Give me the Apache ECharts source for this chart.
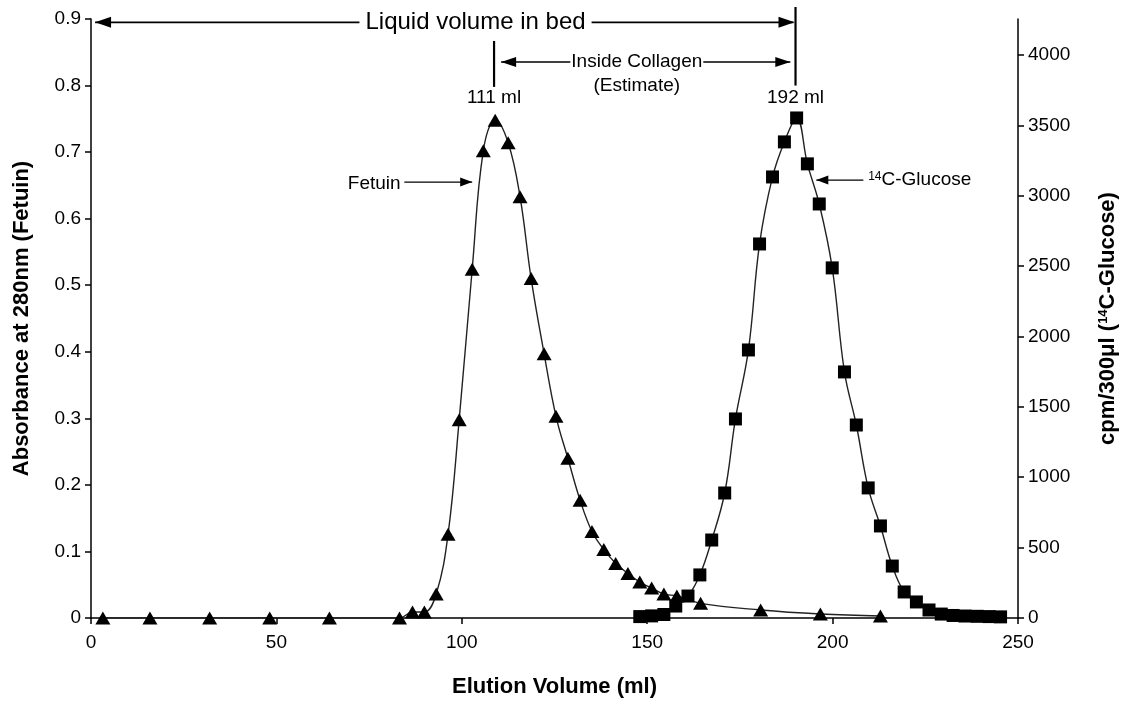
<!DOCTYPE html>
<html><head><meta charset="utf-8">
<script src="https://cdn.jsdelivr.net/npm/echarts@6/dist/echarts.min.js"></script>
<style>html,body{margin:0;padding:0;background:#fff}#c{width:1127px;height:703px}</style>
</head><body><div id="c"></div>
<script>
// Fetuin (absorbance, left axis)
const fetuinX = [3.2,15.9,32,48.2,64.3,83.2,86.7,89.9,93.1,96.3,99.3,102.8,105.8,109,112.5,115.7,118.7,122.2,125.4,128.6,131.9,135.1,138.3,141.5,144.8,148,151.2,154.5,158,164.4,180.6,196.7,212.9];
const fetuinY = [0,0,0,0,0,0,0.009,0.009,0.036,0.126,0.298,0.524,0.702,0.748,0.714,0.633,0.51,0.397,0.303,0.24,0.177,0.13,0.103,0.082,0.067,0.054,0.045,0.036,0.033,0.022,0.012,0.006,0.003];
// 14C-Glucose (cpm, right axis)
const glucoseX = [148,151.2,154.5,157.7,161,164.2,167.4,170.9,173.8,177.3,180.3,183.8,187,190.3,193.2,196.4,199.9,203.2,206.4,209.6,212.9,216.1,219.3,222.6,226,229.3,232.5,235.7,239,242.2,245.3];
const glucoseY = [10,15,25,85,156,306,554,888,1414,1904,2657,3133,3382,3552,3226,2941,2487,1748,1371,924,654,369,185,114,57,28,18,14,12,10,8];
// ticks
const xTicks = [0,50,100,150,200,250];
const leftTicks = [0,0.1,0.2,0.3,0.4,0.5,0.6,0.7,0.8,0.9];
const rightTicks = [0,500,1000,1500,2000,2500,3000,3500,4000];
const rightMax = 4255;
// annotations (data coordinates)
const peakX = [108.7, 190];
const peakLabels = ['111 ml', '192 ml'];

const FONT = '"Liberation Sans", Arial, sans-serif';
const chart = echarts.init(document.getElementById('c'), null, {renderer: 'canvas'});
const zip = (xs, ys) => xs.map((x, i) => [x, ys[i]]);

const axisLine = {show: true, lineStyle: {color: '#000', width: 1.5}};
const axisTick = {show: true, length: 6, lineStyle: {color: '#000', width: 1.5}};
const TICK_FS = 19, TITLE_FS = 22;

chart.setOption({
  animation: false,
  backgroundColor: '#fff',
  grid: {left: 91, right: 107, top: 19, bottom: 84, containLabel: false},
  xAxis: {
    type: 'value', min: 0, max: 250, interval: 50,
    axisLine, axisTick, splitLine: {show: false},
    axisLabel: {color: '#000', fontSize: TICK_FS, fontFamily: FONT, margin: 15},
    name: 'Elution Volume (ml)', nameLocation: 'middle', nameGap: 58,
    nameTextStyle: {color: '#000', fontSize: TITLE_FS, fontWeight: 'bold', fontFamily: FONT}
  },
  yAxis: [{
    type: 'value', min: 0, max: 0.9, interval: 0.1, position: 'left',
    axisLine, axisTick, splitLine: {show: false},
    axisLabel: {color: '#000', fontSize: TICK_FS, fontFamily: FONT, margin: 10,
      formatter: v => v === 0 ? '0' : v.toFixed(1)},
    name: 'Absorbance at 280nm (Fetuin)', nameLocation: 'middle', nameGap: 58, nameRotate: 90,
    nameTextStyle: {color: '#000', fontSize: TITLE_FS, fontWeight: 'bold', fontFamily: FONT}
  }, {
    type: 'value', min: 0, max: rightMax, position: 'right',
    axisLine, splitLine: {show: false},
    axisTick: Object.assign({}, axisTick, {customValues: rightTicks}),
    axisLabel: {color: '#000', fontSize: TICK_FS, fontFamily: FONT, margin: 10,
      customValues: rightTicks, formatter: v => String(v)},
    name: '{n|cpm/300μl (}{s|14}{n|C-Glucose)}', nameLocation: 'middle', nameGap: 79, nameRotate: 90,
    nameTextStyle: {color: '#000', fontFamily: FONT,
      rich: {
        n: {fontSize: TITLE_FS, fontWeight: 'bold', fontFamily: FONT, color: '#000'},
        s: {fontSize: 13, fontWeight: 'bold', fontFamily: FONT, color: '#000', verticalAlign: 'top'}
      }}
  }],
  series: [{
    name: 'Fetuin', type: 'line', xAxisIndex: 0, yAxisIndex: 0,
    data: zip(fetuinX, fetuinY), smooth: 0.4,
    symbol: 'triangle', symbolSize: [15, 13],
    itemStyle: {color: '#000'}, lineStyle: {color: '#222', width: 1.4}, z: 3
  }, {
    name: '14C-Glucose', type: 'line', xAxisIndex: 0, yAxisIndex: 1,
    data: zip(glucoseX, glucoseY), smooth: 0.4,
    symbol: 'rect', symbolSize: 13,
    itemStyle: {color: '#000'}, lineStyle: {color: '#222', width: 1.4}, z: 3
  }]
});

// ----- annotations placed through the axes -----
const P = (x, y) => chart.convertToPixel({xAxisIndex: 0, yAxisIndex: 0}, [x, y]);
const els = [];
function line(a, b, w) {
  els.push({type: 'line', shape: {x1: a[0], y1: a[1], x2: b[0], y2: b[1]}, style: {stroke: '#000', lineWidth: w || 1.6}, z: 10});
}
function head(tip, dir, len, hw) {
  len = len || 15; hw = hw || 5;
  const bx = tip[0] - dir * len;
  els.push({type: 'polygon', shape: {points: [[tip[0], tip[1]], [bx, tip[1] - hw], [bx, tip[1] + hw]]}, style: {fill: '#000'}, z: 11});
}
function text(p, t, size, align, extra) {
  els.push({type: 'text', x: p[0], y: p[1], z: 12,
    style: Object.assign({text: t, fontSize: size, fontFamily: FONT, fill: '#000', align: align || 'center', verticalAlign: 'middle'}, extra || {})});
}

// "Liquid volume in bed" double arrow
const yTop = 0.895;
const lvL = P(1.1, yTop), lvR = P(peakX[1], yTop);
line(lvL, [lvR[0] - 2, lvR[1]]);
head(lvL, -1, 16, 5.5); head([lvR[0] - 1, lvR[1]], 1, 16, 5.5);
text(P(103.7, yTop), 'Liquid volume in bed', 24, 'center', {backgroundColor: '#fff', padding: [2, 6]});
// vertical markers
line(P(peakX[1], 0.918), P(peakX[1], 0.80), 2.2);
line(P(peakX[0], 0.867), P(peakX[0], 0.798), 2.2);
peakLabels.forEach((l, i) => text(P(peakX[i], 0.781), l, 19));
// Inside Collagen double arrow
const yIC = 0.8355;
const icL = P(110.6, yIC), icR = P(188.6, yIC);
line(icL, icR);
head(icL, -1, 15, 5); head(icR, 1, 15, 5);
text(P(147.2, yIC), 'Inside Collagen', 19, 'center', {backgroundColor: '#fff', padding: [1, 1]});
text(P(147.2, 0.800), '(Estimate)', 19);
// Fetuin label
const fY = 0.655;
line(P(84.5, fY), P(102.8, fY), 1.3); head(P(102.8, fY), 1, 12, 4.5);
text(P(83.5, fY - 0.002), 'Fetuin', 19, 'right');
// 14C-Glucose label
const gY = 0.658;
line(P(208.3, gY), P(195.6, gY), 1.3); head(P(195.6, gY), -1, 12, 4.5);
els.push({type: 'text', x: P(209.6, gY)[0], y: P(209.6, gY)[1], z: 12,
  style: {text: '{s|14}{n|C-Glucose}', align: 'left', verticalAlign: 'middle',
    rich: {n: {fontSize: 19, fontFamily: FONT, fill: '#000', color: '#000'},
           s: {fontSize: 12, fontFamily: FONT, fill: '#000', color: '#000', verticalAlign: 'top'}}}});

chart.setOption({graphic: {elements: els}});
</script>
</body></html>
